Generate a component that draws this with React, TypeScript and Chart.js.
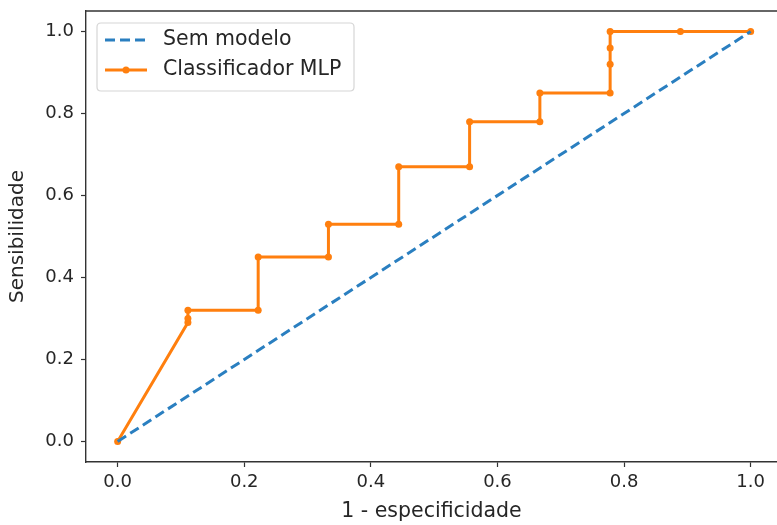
import React, { useEffect, useRef } from "react";
import { Chart, registerables } from "chart.js";

Chart.register(...registerables);

const fpr = [0, 0.111, 0.111, 0.111, 0.222, 0.222, 0.333, 0.333, 0.444, 0.444, 0.556, 0.556, 0.667, 0.667, 0.778, 0.778, 0.778, 0.778, 0.889, 1.0];
const tpr = [0, 0.29, 0.30, 0.32, 0.32, 0.45, 0.45, 0.53, 0.53, 0.67, 0.67, 0.78, 0.78, 0.85, 0.85, 0.92, 0.96, 1.0, 1.0, 1.0];
const baseX = [0, 1];
const baseY = [0, 1];
const tickValues = [0, 0.2, 0.4, 0.6, 0.8, 1.0];
const labels = ["Sem modelo", "Classificador MLP"];

const BLUE = "#2a7fc0";
const ORANGE = "#ff7f0e";
const FONT = "'DejaVu Sans', sans-serif";
const TXT = "#262626";

const framePlugin = {
  id: "frameLegend",
  afterDraw(chart: any) {
    const { ctx, chartArea } = chart;
    ctx.save();
    ctx.strokeStyle = "#333";
    ctx.lineWidth = 1.4;
    ctx.beginPath();
    ctx.moveTo(chartArea.left, chartArea.top);
    ctx.lineTo(chartArea.right, chartArea.top);
    ctx.stroke();

    // legend
    const bx = 97, by = 23, bw = 257, bh = 68, r = 4;
    ctx.beginPath();
    ctx.moveTo(bx + r, by);
    ctx.lineTo(bx + bw - r, by);
    ctx.quadraticCurveTo(bx + bw, by, bx + bw, by + r);
    ctx.lineTo(bx + bw, by + bh - r);
    ctx.quadraticCurveTo(bx + bw, by + bh, bx + bw - r, by + bh);
    ctx.lineTo(bx + r, by + bh);
    ctx.quadraticCurveTo(bx, by + bh, bx, by + bh - r);
    ctx.lineTo(bx, by + r);
    ctx.quadraticCurveTo(bx, by, bx + r, by);
    ctx.closePath();
    ctx.fillStyle = "rgba(255,255,255,0.85)";
    ctx.fill();
    ctx.strokeStyle = "#d6d6d6";
    ctx.lineWidth = 1.2;
    ctx.stroke();

    const rows = [40, 70];
    ctx.strokeStyle = BLUE;
    ctx.lineWidth = 3;
    ctx.setLineDash([10, 5]);
    ctx.beginPath();
    ctx.moveTo(105, rows[0]);
    ctx.lineTo(147, rows[0]);
    ctx.stroke();
    ctx.setLineDash([]);
    ctx.strokeStyle = ORANGE;
    ctx.beginPath();
    ctx.moveTo(105, rows[1]);
    ctx.lineTo(147, rows[1]);
    ctx.stroke();
    ctx.fillStyle = ORANGE;
    ctx.beginPath();
    ctx.arc(126, rows[1], 3.5, 0, Math.PI * 2);
    ctx.fill();

    ctx.fillStyle = TXT;
    ctx.font = `20.5px ${FONT}`;
    ctx.textBaseline = "middle";
    ctx.textAlign = "left";
    ctx.fillText(labels[0], 163, rows[0]);
    ctx.fillText(labels[1], 163, rows[1]);
    ctx.restore();
  },
};

export default function App() {
  const ref = useRef<HTMLCanvasElement>(null);
  useEffect(() => {
    if (!ref.current) return;
    const chart = new Chart(ref.current, {
      type: "scatter",
      data: {
        datasets: [
          {
            label: labels[0],
            data: baseX.map((x, i) => ({ x, y: baseY[i] })),
            showLine: true,
            borderColor: BLUE,
            borderWidth: 3,
            borderDash: [10, 5],
            pointRadius: 0,
            fill: false,
          },
          {
            label: labels[1],
            data: fpr.map((x, i) => ({ x, y: tpr[i] })),
            showLine: true,
            borderColor: ORANGE,
            backgroundColor: ORANGE,
            borderWidth: 3,
            pointRadius: 3.5,
            pointBorderWidth: 0,
            pointBackgroundColor: ORANGE,
            fill: false,
          },
        ],
      },
      options: {
        animation: false,
        responsive: true,
        maintainAspectRatio: false,
        layout: { autoPadding: false, padding: { top: 11, right: 0, left: 0, bottom: 0 } },
        plugins: { legend: { display: false }, tooltip: { enabled: false } },
        scales: {
          x: {
            type: "linear",
            min: -0.05,
            max: 1.0416,
            afterFit: (s: any) => { s.height = 63; s.paddingRight = 0; s.paddingLeft = 0; },
            afterBuildTicks: (s: any) => { s.ticks = tickValues.map((v) => ({ value: v })); },
            grid: { drawOnChartArea: false, drawTicks: true, tickLength: 5, tickColor: "#333", tickWidth: 1.2 },
            border: { display: true, color: "#333", width: 1.4 },
            ticks: {
              padding: 5,
              color: TXT,
              font: { family: FONT, size: 18 },
              callback: (v: any) => Number(v).toFixed(1),
            },
            title: {
              display: true,
              text: "1 - especificidade",
              color: TXT,
              font: { family: FONT, size: 20.5 },
              padding: { top: 0, bottom: 1 },
            },
          },
          y: {
            type: "linear",
            min: -0.05,
            max: 1.05,
            afterFit: (s: any) => { s.width = 86; s.paddingTop = 0; s.paddingBottom = 0; },
            afterBuildTicks: (s: any) => { s.ticks = tickValues.map((v) => ({ value: v })); },
            grid: { drawOnChartArea: false, drawTicks: true, tickLength: 5, tickColor: "#333", tickWidth: 1.2 },
            border: { display: true, color: "#333", width: 1.4 },
            ticks: {
              padding: 7,
              color: TXT,
              font: { family: FONT, size: 18 },
              callback: (v: any) => Number(v).toFixed(1),
            },
            title: {
              display: true,
              text: "Sensibilidade",
              color: TXT,
              font: { family: FONT, size: 20 },
              padding: { top: 6, bottom: 0 },
            },
          },
        },
      },
      plugins: [framePlugin],
    });
    return () => chart.destroy();
  }, []);
  return (
    <div style={{ position: "fixed", left: 0, top: 0, width: 777, height: 525, background: "#fff" }}>
      <canvas ref={ref} />
    </div>
  );
}
